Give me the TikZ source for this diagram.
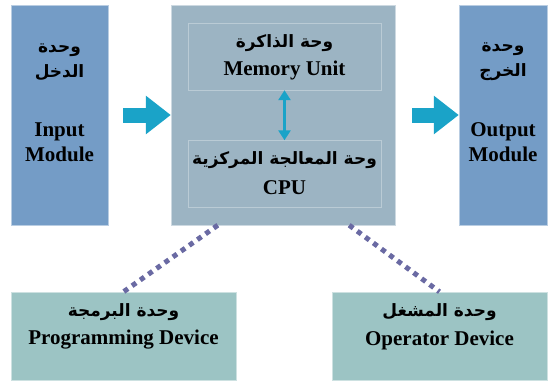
\documentclass[tikz,border=0pt]{standalone}
\usepackage{fontspec}
\setmainfont{Liberation Serif}
\newfontfamily\arabicfont[Script=Arabic]{DejaVu Sans}
\TeXXeTstate=1
\usetikzlibrary{arrows.meta}

\definecolor{modblue}{RGB}{116,156,198}
\definecolor{coreblue}{RGB}{156,180,195}
\definecolor{devteal}{RGB}{156,196,196}
\definecolor{flowcyan}{RGB}{26,163,200}
\definecolor{linkdots}{RGB}{106,106,163}

\tikzset{
  module/.style={draw=white!50!modblue, fill=modblue, minimum width=#1, minimum height=220pt, inner sep=0pt},
  core/.style={draw=white!50!coreblue, fill=coreblue, minimum width=224pt, minimum height=220pt},
  unit/.style={draw=white!30!coreblue, fill=coreblue, minimum width=193pt, minimum height=67pt, inner sep=0pt},
  device/.style={draw=white!50!devteal, fill=devteal, minimum width=#1, minimum height=88pt, inner sep=0pt},
  engtxt/.style={align=center, font=\fontsize{21}{25}\selectfont\bfseries},
  artxt/.style={align=center, font=\arabicfont\fontsize{17}{25}\selectfont\bfseries},
  bigflow/.style={draw=flowcyan, line width=15pt, -{Triangle[width=37pt,length=25pt]}, shorten <=15pt},
  busflow/.style={draw=flowcyan, line width=3.5pt, {Triangle[width=12pt,length=10pt]}-{Triangle[width=12pt,length=10pt]}},
  dotlink/.style={draw=linkdots, line width=5pt, dash pattern=on 5pt off 5pt}
}

\begin{document}
\begin{tikzpicture}[x=1pt, y=-1pt]
  \useasboundingbox (0,0) rectangle (550,383);

  % blocks
  \node[module=97pt] (in) at (59.5,115) {};
  \node[core] (plc) at (283,115) {};
  \node[module=88pt] (out) at (503,115) {};
  \node[unit] (mem) at (284.5,56.5) {};
  \node[unit] (cpu) at (284.5,174) {};
  \node[device=225pt] (prog) at (123.5,336) {};
  \node[device=215pt] (oper) at (439.5,336) {};

  % labels
  \node[artxt] (inA) at (59.5,62) {\beginR وحدة\endR\\\beginR الدخل\endR};
  \node[engtxt] (inE) at (59.5,142) {Input\\Module};
  \node[artxt] (outA) at (503,62) {\beginR وحدة\endR\\\beginR الخرج\endR};
  \node[engtxt] (outE) at (503,142) {Output\\Module};
  \node[artxt] (memA) at (284.5,43) {\beginR وحة الذاكرة\endR};
  \node[engtxt] (memE) at (284.5,70) {Memory Unit};
  \node[artxt] (cpuA) at (284.5,160) {\beginR وحة المعالجة المركزية\endR};
  \node[engtxt] (cpuE) at (284.5,188) {CPU};
  \node[artxt] (progA) at (123.5,312) {\beginR وحدة البرمجة\endR};
  \node[engtxt] (progE) at (123.5,340) {Programming Device};
  \node[artxt] (operA) at (439.5,312) {\beginR وحدة المشغل\endR};
  \node[engtxt] (operE) at (439.5,340) {Operator Device};

  % connections
  \draw[bigflow] (in.east) -- (plc.west);
  \draw[bigflow, shorten <=17pt] (plc.east) -- (out.west);
  \draw[busflow] (mem.south) -- (cpu.north);
  \draw[dotlink] ([xshift=47pt]plc.south west) -- (prog.north);
  \draw[dotlink] ([xshift=-46pt]plc.south east) -- (oper.north);
\end{tikzpicture}
\end{document}
